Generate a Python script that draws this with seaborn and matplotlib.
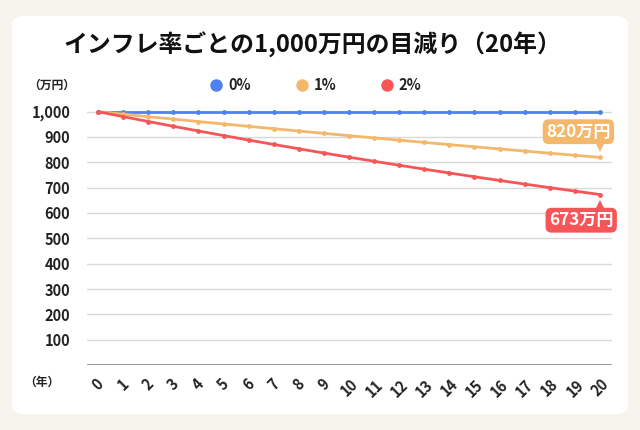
import pandas as pd
import matplotlib
matplotlib.use("Agg")
import matplotlib.pyplot as plt
from matplotlib.patches import FancyBboxPatch
from matplotlib.lines import Line2D
import matplotlib.transforms as mtransforms
import seaborn as sns

# data
years = list(range(21))
rate_labels = ["0%", "1%", "2%"]
value_0 = [1000.0] * 21
value_1 = [1000.0, 990.10, 980.30, 970.59, 960.98, 951.47, 942.05, 932.72, 923.48, 914.34,
           905.29, 896.32, 887.45, 878.66, 869.96, 861.35, 852.82, 844.38, 836.02, 827.74, 819.54]
value_2 = [1000.0, 980.39, 961.17, 942.32, 923.85, 905.73, 887.97, 870.56, 853.49, 836.76,
           820.35, 804.26, 788.49, 773.03, 757.88, 743.01, 728.45, 714.16, 700.16, 686.43, 672.97]
y_ticks = [100, 200, 300, 400, 500, 600, 700, 800, 900, 1000]
y_tick_labels = ["100", "200", "300", "400", "500", "600", "700", "800", "900", "1,000"]
end_labels = ["820万円", "673万円"]

colors = ["#4f81f2", "#f4b86c", "#f75658"]

sns.set_theme(style="white")
plt.rcParams["font.family"] = ["Noto Sans CJK JP", "DejaVu Sans"]

df = pd.DataFrame({
    "year": years * 3,
    "value": value_0 + value_1 + value_2,
    "rate": [rate_labels[0]] * 21 + [rate_labels[1]] * 21 + [rate_labels[2]] * 21,
})

fig = plt.figure(figsize=(6.4, 4.3), dpi=100)
fig.patch.set_facecolor("#f4f3ec")
panel = FancyBboxPatch((12 / 640, 16 / 430), 616 / 640, 398 / 430,
                       boxstyle="round,pad=0,rounding_size=0.02",
                       transform=fig.transFigure, facecolor="white",
                       edgecolor="none", zorder=-10)
fig.patches.append(panel)

ax = fig.add_axes([87 / 640, 65 / 430, 525 / 640, 266 / 430])
ax.set_facecolor("none")

sns.lineplot(data=df, x="year", y="value", hue="rate", palette=colors,
             marker="o", markersize=3.5, markeredgewidth=0, linewidth=2,
             legend=False, ax=ax, zorder=3)

ax.set_xlim(-0.44, 20.48)
ax.set_ylim(0, 1050)
ax.set_yticks(y_ticks)
ax.set_yticklabels(y_tick_labels, fontsize=10.5, fontweight="bold", color="#222222")
ax.set_xticks(years)
ax.set_xticklabels([str(y) for y in years], rotation=45, ha="center", va="top",
                   fontsize=10.5, fontweight="bold", color="#222222")
ax.tick_params(axis="both", length=0)
ax.tick_params(axis="y", pad=12)
ax.tick_params(axis="x", pad=8)
ax.set_xlabel("")
ax.set_ylabel("")
for s in ax.spines.values():
    s.set_visible(False)
for t in y_ticks:
    ax.axhline(t, color="#d9d9d9", linewidth=1, zorder=1)
ax.axhline(0, color="#8a8a8a", linewidth=1.2, zorder=1)

# legend
handles = [Line2D([0], [0], marker="o", color="none", markerfacecolor=c,
                  markeredgewidth=0, markersize=9) for c in colors]
leg = ax.legend(handles, rate_labels, loc="lower center", bbox_to_anchor=(0.435, 0.972),
                ncol=3, frameon=False, handletextpad=0.3, columnspacing=3.0,
                handlelength=1.0, prop={"weight": "bold", "size": 10.5})
for t in leg.get_texts():
    t.set_color("#222222")

# end labels
ends = [(value_1[-1], end_labels[0], colors[1], 1, -15.5),
        (value_2[-1], end_labels[1], colors[2], -1, -13.5)]
for val, txt, c, d, dx in ends:
    ax.annotate(txt, xy=(years[-1], val), xytext=(dx, 18.5 * d), textcoords="offset points",
                ha="center", va="center", fontsize=12.3, fontweight="bold", color="white",
                bbox=dict(boxstyle="round,pad=0.2,rounding_size=0.35", facecolor=c, edgecolor="none"),
                zorder=5)
    tri = mtransforms.offset_copy(ax.transData, fig=fig, x=0, y=7.6 * d, units="points")
    ax.plot([years[-1]], [val], marker="v" if d > 0 else "^", color=c, markersize=7,
            markeredgewidth=0, transform=tri, zorder=5, clip_on=False)

fig.text(0.488, 0.895, "インフレ率ごとの1,000万円の目減り（20年）", ha="center", va="center",
         fontsize=17.2, fontweight="bold", color="#111111")
fig.text(52 / 640, 1 - 85 / 430, "（万円）", ha="center", va="center",
         fontsize=8.5, fontweight="bold", color="#222222")
fig.text(42 / 640, 1 - 382 / 430, "（年）", ha="center", va="center",
         fontsize=8.5, fontweight="bold", color="#222222")

fig.savefig("out.png", dpi=100, facecolor=fig.get_facecolor())
